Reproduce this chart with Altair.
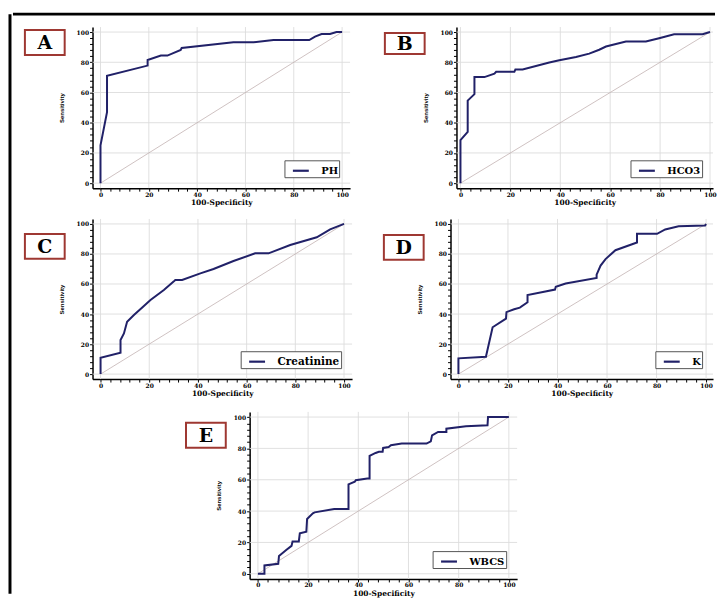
import altair as alt
import pandas as pd

# ---------------- data ----------------
letters = ["A", "B", "C", "D", "E"]
markers = ["PH", "HCO3", "Creatinine", "K", "WBCS"]

ph_x = [0, 0, 2.7, 2.7, 19.5, 19.5, 25, 27.7, 33.2, 33.6, 55, 63.4, 71.6, 86.4, 88.8, 91.5, 95, 97.7, 100]
ph_y = [0, 25, 47, 71, 77.8, 81.5, 84.4, 84.4, 88.1, 89.5, 93.2, 93.2, 94.7, 94.7, 97, 98.7, 98.7, 100, 100]

hco3_x = [0, 0, 2.9, 2.9, 5.6, 5.6, 9.6, 13.6, 14.3, 21.6, 22, 24.9, 35.6, 39.6, 46.3, 51.6, 55.6, 58.3, 66.3, 74.3, 79.6, 85.6, 97, 100]
hco3_y = [0, 28.5, 33.9, 54.6, 58.9, 70.2, 70.2, 72.4, 73.7, 73.7, 75.2, 75.2, 79.8, 81.3, 83.5, 85.7, 88.3, 90.4, 93.7, 93.7, 95.9, 98.5, 98.5, 100]

creat_x = [0, 0, 8.2, 8.2, 9.6, 10.9, 13.7, 17.8, 20.5, 26, 30, 30.7, 33.5, 41, 46.4, 54.6, 63.5, 69, 77.9, 88.8, 94.3, 100]
creat_y = [0, 10.9, 14.2, 22.7, 27.1, 34.9, 39.3, 45.3, 49.3, 56, 61.6, 62.7, 62.7, 67.1, 70, 75.3, 80.4, 80.4, 86, 91.1, 96.4, 100]

k_x = [0, 0, 11.1, 13.8, 19.2, 19.4, 22.5, 24.8, 27.9, 27.9, 34.6, 39, 39.3, 43.3, 55.8, 55.8, 57.4, 59.4, 63.4, 72.1, 72.1, 80.2, 83.5, 88.9, 99.6, 100]
k_y = [0, 10.5, 11.6, 31.2, 36.9, 41.3, 43.2, 44.3, 47.8, 52.6, 54.8, 56.3, 58.1, 60.3, 64, 66.2, 72.3, 76.6, 82.5, 87.6, 93.4, 93.4, 96.3, 98.5, 98.9, 100]

wbc_x = [0, 2.6, 2.6, 8.1, 8.4, 11.4, 13.4, 13.8, 16.3, 16.7, 19.3, 19.6, 21.9, 22.6, 30.4, 36.1, 36.1, 38.6, 39, 43.6,
         44.5, 44.5, 46.9, 48.2, 49.7, 49.9, 52.1, 53, 57.3, 67.2, 68.9, 69.4, 71.8, 75.1, 75.1, 82.9, 91.5, 91.7, 100]
wbc_y = [0, 0, 5.3, 6.4, 11.4, 15.3, 17.8, 20.6, 20.6, 25.8, 26.9, 35, 38.6, 39.2, 41.3, 41.3, 57, 58.7, 59.7, 60.8,
         60.8, 75.2, 77.1, 77.8, 77.8, 80.3, 80.9, 82, 83.1, 83.1, 84.5, 88.3, 90.5, 90.5, 92.6, 94.1, 94.7, 100, 100]

grid_vals = [0, 20, 40, 60, 80, 100]
tick_vals = list(range(0, 101, 4))
diag_x = [0, 100]
diag_y = [0, 100]

SERIF = "DejaVu Serif"
SANS = "Liberation Sans"
CURVE = "#212168"
one = pd.DataFrame({"k": [0]})


def panel(letter, marker, xs, ys, width, height, xdom, ydom, box, lab_size, right_pad):
    curve_df = pd.DataFrame({"fpr": xs, "tpr": ys, "i": list(range(len(xs))), "marker": marker})
    grid_df = pd.DataFrame({"g": grid_vals})
    diag_df = pd.DataFrame({"fpr": diag_x, "tpr": diag_y})
    let_df = pd.DataFrame({"letter": [letter]})

    xscale = alt.Scale(domain=xdom, nice=False, zero=False)
    yscale = alt.Scale(domain=ydom, nice=False, zero=False)
    lab_expr = "datum.value % 20 === 0 ? datum.label : ''"
    xaxis = alt.Axis(values=tick_vals, labelExpr=lab_expr, title="100-Specificity", grid=False,
                     tickSize=3, tickColor="black", labelPadding=0, titlePadding=1.5,
                     labelFont=SERIF, labelFontWeight="bold", labelFontSize=6, labelColor="black",
                     titleFont=SERIF, titleFontSize=7.5, titleFontWeight="bold", titleColor="black",
                     labelFlush=False, labelOverlap=False, domainColor="black", domainWidth=1.5)
    yaxis = alt.Axis(values=tick_vals, labelExpr=lab_expr, title="Sensitivity", grid=False,
                     tickSize=3, tickColor="black", labelPadding=1, titlePadding=12,
                     labelFont=SERIF, labelFontWeight="bold", labelFontSize=6, labelColor="black",
                     titleFont=SANS, titleFontSize=6, titleFontWeight="bold", titleColor="black",
                     labelFlush=False, labelOverlap=False, domainColor="black", domainWidth=1.5)

    gx = alt.Chart(grid_df).mark_rule(color="#dcdcdc", strokeWidth=0.9).encode(
        x=alt.X("g:Q", scale=xscale, axis=xaxis))
    gy = alt.Chart(grid_df).mark_rule(color="#dcdcdc", strokeWidth=0.9).encode(
        y=alt.Y("g:Q", scale=yscale, axis=yaxis))
    diag = alt.Chart(diag_df).mark_line(color="#c2b2b2", strokeWidth=0.8).encode(
        x=alt.X("fpr:Q", scale=xscale, axis=xaxis),
        y=alt.Y("tpr:Q", scale=yscale, axis=yaxis))
    line = alt.Chart(curve_df).mark_line(strokeWidth=2).encode(
        x=alt.X("fpr:Q", scale=xscale, axis=xaxis),
        y=alt.Y("tpr:Q", scale=yscale, axis=yaxis),
        order=alt.Order("i:Q"),
        color=alt.Color("marker:N", scale=alt.Scale(range=[CURVE]),
                        legend=alt.Legend(title=None, orient="bottom-right", offset=11, padding=1,
                                          strokeColor="#555555", fillColor="white",
                                          symbolType="stroke", symbolSize=256, symbolStrokeWidth=2.2,
                                          symbolOffset=6, labelFont=SERIF, labelFontWeight="bold",
                                          labelFontSize=lab_size, labelOffset=11, labelColor="black",
                                          labelLimit=300,
                                          labelExpr="datum.label + '" + "\u00a0" * right_pad + "'")))
    bx0, bx1, by0, by1 = box
    rect = alt.Chart(let_df).mark_rect(fill="white", stroke="#9e3832", strokeWidth=2).encode(
        x=alt.value(bx0), x2=alt.value(bx1), y=alt.value(by0), y2=alt.value(by1))
    txt = alt.Chart(let_df).mark_text(font=SERIF, fontWeight="bold", fontSize=19, color="black",
                                      align="center", baseline="middle").encode(
        x=alt.value((bx0 + bx1) / 2), y=alt.value((by0 + by1) / 2 + 1), text="letter:N")
    return alt.layer(gx, gy, diag, line, rect, txt).properties(width=width, height=height)


def spacer(w):
    return alt.Chart(one).mark_point(opacity=0).encode(
        x=alt.value(0), y=alt.value(0)).properties(width=w, height=1)


dom = [-3.3, 103.3]
pA = panel(letters[0], markers[0], ph_x, ph_y, 259, 162, dom, dom, (-68, -28, 3, 28), 10, 3)
pB = panel(letters[1], markers[1], hco3_x, hco3_y, 258, 162, [-1.6, 101.2], dom, (-72, -32, 6, 27), 10, 3)
pC = panel(letters[2], markers[2], creat_x, creat_y, 261, 161, dom, dom, (-68, -28, 15, 40), 10.5, 1)
pD = panel(letters[3], markers[3], k_x, k_y, 264, 161, [-3.2, 102.8], dom, (-67, -27, 16, 41), 10, 3)
pE = panel(letters[4], markers[4], wbc_x, wbc_y, 269, 168, dom, dom, (-64, -24, 11, 36), 10, 3)

# frame of the figure (top and left edges)
top_edge = alt.Chart(one).mark_rule(color="black", strokeWidth=3, strokeCap="square").encode(
    x=alt.value(-78.5), x2=alt.value(624.5), y=alt.value(0)).properties(width=1, height=1)
left_edge = alt.Chart(one).mark_rule(color="black", strokeWidth=3).encode(
    x=alt.value(0), y=alt.value(0), y2=alt.value(583)).properties(width=1, height=1)

row1 = alt.hconcat(pA, pB, spacing=33).resolve_scale(color="independent")
row2 = alt.hconcat(pC, pD, spacing=30).resolve_scale(color="independent")
row3 = alt.hconcat(spacer(81), pE, spacing=12).resolve_scale(color="independent")
rows = alt.vconcat(row1, row2, row3, spacing=12).resolve_scale(color="independent")
body = alt.vconcat(top_edge, rows, spacing=9).resolve_scale(color="independent")

chart = alt.hconcat(left_edge, body, spacing=0).resolve_scale(color="independent").properties(
    padding={"left": 0, "top": 1.5, "right": 0, "bottom": 0}
).configure_view(stroke=None)

chart.save("out.html", embed_options={"renderer": "svg", "actions": False})
